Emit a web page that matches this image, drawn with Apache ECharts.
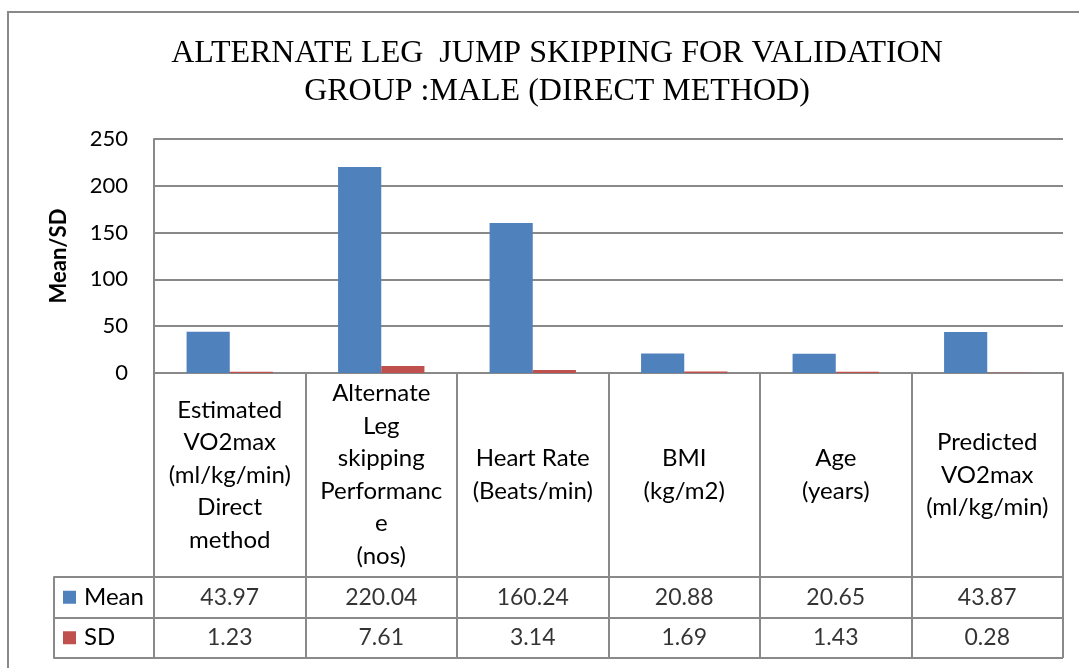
<!DOCTYPE html>
<html>
<head>
<meta charset="utf-8">
<title>Alternate Leg Jump Skipping</title>
<script src="https://cdn.jsdelivr.net/npm/echarts@6/dist/echarts.min.js"></script>
<style>
  html, body { margin: 0; padding: 0; background: #fff; }
  #chart { width: 1079px; height: 668px; }
</style>
</head>
<body>
<div id="chart"></div>
<script>
// categories, written as they wrap in the data table
const categories = [
  'Estimated\nVO2max\n(ml/kg/min)\nDirect\nmethod',
  'Alternate\nLeg\nskipping\nPerformanc\ne\n(nos)',
  'Heart Rate\n(Beats/min)',
  'BMI\n(kg/m2)',
  'Age\n(years)',
  'Predicted\nVO2max\n(ml/kg/min)'
]
const meanValues = [43.97, 220.04, 160.24, 20.88, 20.65, 43.87]
const sdValues = [1.23, 7.61, 3.14, 1.69, 1.43, 0.28]
const rowNames = ['Mean', 'SD']
const yTicks = { min: 0, max: 250, interval: 50 }

const font = 'Lato'
const lineColor = '#898989'
const meanColor = '#4F81BD'
const sdColor = '#C0504D'

const chart = echarts.init(document.getElementById('chart'))

// cells of the data table, placed by the table grid's axes
const tableCells = []
meanValues.forEach((v, i) => tableCells.push([i, 'Mean', v]))
sdValues.forEach((v, i) => tableCells.push([i, 'SD', v]))

chart.setOption({
  animation: false,
  title: {
    text: 'ALTERNATE LEG  JUMP SKIPPING FOR VALIDATION\nGROUP :MALE (DIRECT METHOD)',
    left: 552,
    top: 30,
    textAlign: 'center',
    textStyle: {
      fontFamily: 'Liberation Serif',
      fontSize: 32,
      fontWeight: 'normal',
      color: '#000',
      lineHeight: 38
    }
  },
  graphic: [{
    type: 'rect',
    shape: { x: 8, y: 12, width: 1200, height: 800 },
    style: { fill: 'none', stroke: lineColor, lineWidth: 2 },
    silent: true
  }],
  grid: [
    { left: 154, right: 16, top: 139, bottom: 295 },
    { left: 154, right: 16, top: 577, bottom: 10 }
  ],
  xAxis: [{
    gridIndex: 0,
    type: 'category',
    data: categories,
    axisLine: { show: true, lineStyle: { color: lineColor, width: 2 } },
    axisTick: { show: true, length: 285, interval: 0, lineStyle: { color: lineColor, width: 2 } },
    axisLabel: {
      interval: 0,
      margin: 102,
      verticalAlign: 'middle',
      align: 'center',
      fontFamily: font,
      fontSize: 24,
      lineHeight: 32.5,
      color: '#000'
    },
    splitLine: { show: false }
  }, {
    gridIndex: 1,
    type: 'category',
    data: categories,
    show: false
  }],
  yAxis: [{
    gridIndex: 0,
    type: 'value',
    min: yTicks.min,
    max: yTicks.max,
    interval: yTicks.interval,
    name: 'Mean/SD',
    nameLocation: 'middle',
    nameGap: 84,
    nameTextStyle: { fontFamily: font, fontSize: 22, fontWeight: 'bold', color: '#000' },
    axisLine: { show: true, lineStyle: { color: lineColor, width: 2 } },
    axisTick: { show: false },
    axisLabel: { margin: 26, fontFamily: font, fontSize: 22, color: '#000' },
    splitLine: { show: true, lineStyle: { color: lineColor, width: 2 } }
  }, {
    gridIndex: 1,
    type: 'category',
    data: rowNames,
    inverse: true,
    axisLine: { show: true, lineStyle: { color: lineColor, width: 2 } },
    axisTick: { show: true, length: 100, lineStyle: { color: lineColor, width: 2 } },
    splitLine: { show: true, lineStyle: { color: lineColor, width: 2 } },
    axisLabel: {
      margin: 91,
      align: 'left',
      formatter: v => '{' + (v === 'Mean' ? 'a' : 'b') + '|}{t|' + v + '}',
      rich: {
        a: { width: 13, height: 13, backgroundColor: meanColor },
        b: { width: 13, height: 13, backgroundColor: sdColor },
        t: { fontFamily: font, fontSize: 24, color: '#000', padding: [0, 0, 0, 8] }
      }
    }
  }, {
    // left edge of the legend column
    gridIndex: 1,
    type: 'category',
    data: rowNames,
    position: 'left',
    offset: 100,
    axisLine: { show: true, lineStyle: { color: lineColor, width: 2 } },
    axisTick: { show: false },
    axisLabel: { show: false },
    splitLine: { show: false }
  }],
  series: [{
    name: 'Mean',
    type: 'bar',
    xAxisIndex: 0,
    yAxisIndex: 0,
    data: meanValues,
    barGap: 0,
    barCategoryGap: '43%',
    itemStyle: { color: meanColor }
  }, {
    name: 'SD',
    type: 'bar',
    xAxisIndex: 0,
    yAxisIndex: 0,
    data: sdValues,
    itemStyle: { color: sdColor }
  }, {
    name: 'table',
    type: 'scatter',
    xAxisIndex: 1,
    yAxisIndex: 1,
    symbolSize: 0,
    data: tableCells,
    label: {
      show: true,
      position: 'inside',
      formatter: p => p.value[2].toFixed(2),
      fontFamily: font,
      fontSize: 23,
      color: '#000'
    }
  }]
})
</script>
</body>
</html>
